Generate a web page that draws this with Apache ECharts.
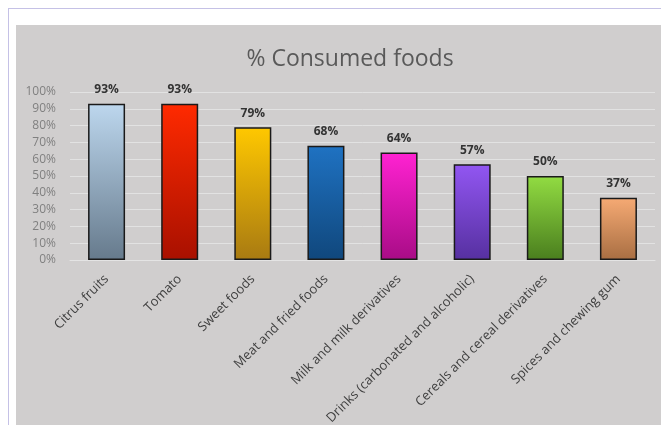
<!DOCTYPE html>
<html>
<head>
<meta charset="utf-8">
<script src="https://cdn.jsdelivr.net/npm/echarts@6/dist/echarts.min.js"></script>
<style>
html,body{margin:0;padding:0;background:#fff;width:661px;height:425px;overflow:hidden;}
#frame{position:absolute;left:8px;top:8px;width:660px;height:420px;border-left:1px solid #c5c1e6;border-top:1px solid #c5c1e6;}
#panel{position:absolute;left:16px;top:25px;width:645px;height:400px;background:#d0cece;}
#chart{position:absolute;left:0;top:0;width:661px;height:425px;}
</style>
</head>
<body>
<div id="frame"></div>
<div id="panel"></div>
<div id="chart"></div>
<script>
const categories = ["Citrus fruits","Tomato","Sweet foods","Meat and fried foods","Milk and milk derivatives","Drinks (carbonated and alcoholic)","Cereals and cereal derivatives","Spices and chewing gum"];
const values = [93, 93, 79, 68, 64, 57, 50, 37];
const topColors = ["#bdd7ee","#ff2a00","#ffc800","#1f72c2","#ff22d2","#9256f2","#92dc42","#f6aa74"];
const bottomColors = ["#667a8c","#a81000","#a87a12","#10477c","#a80c86","#5630a0","#4a7e1e","#a86e42"];

const chart = echarts.init(document.getElementById('chart'), null, {renderer:'canvas'});
chart.setOption({
  backgroundColor: 'transparent',
  animation: false,
  title: {
    text: '% Consumed foods',
    left: 345, top: 43, textAlign: 'center',
    textStyle: {fontFamily: 'Open Sans', fontSize: 23, fontWeight: 500, color: '#595959'}
  },
  grid: {left: 70, right: 6, top: 92, bottom: 165, containLabel: false, outerBoundsMode: 'none'},
  xAxis: {
    type: 'category',
    data: categories,
    axisLine: {show: true, lineStyle: {color: '#e4e4e4', width: 1}},
    axisTick: {show: false},
    axisLabel: {rotate: 45, interval: 0, margin: 17, fontFamily: 'Open Sans', fontSize: 13, color: '#404040'}
  },
  yAxis: {
    type: 'value', min: 0, max: 100, interval: 10,
    axisLine: {show: false}, axisTick: {show: false},
    axisLabel: {formatter: '{value}%', margin: 14, fontFamily: 'Open Sans', fontSize: 12, color: '#808080'},
    splitLine: {lineStyle: {color: '#e2e2e2', width: 1}}
  },
  series: [{
    type: 'bar',
    barWidth: 37,
    data: values.map((v, i) => ({
      value: v,
      itemStyle: {
        color: new echarts.graphic.LinearGradient(0, 0, 0, 1, [
          {offset: 0, color: topColors[i]},
          {offset: 1, color: bottomColors[i]}
        ]),
        borderColor: '#1a1a1a', borderWidth: 1.5
      }
    })),
    label: {
      show: true, position: 'top', distance: 8,
      formatter: '{c}%',
      fontFamily: 'Open Sans', fontSize: 12, fontWeight: 'bold', color: '#333333'
    }
  }]
});
</script>
</body>
</html>
